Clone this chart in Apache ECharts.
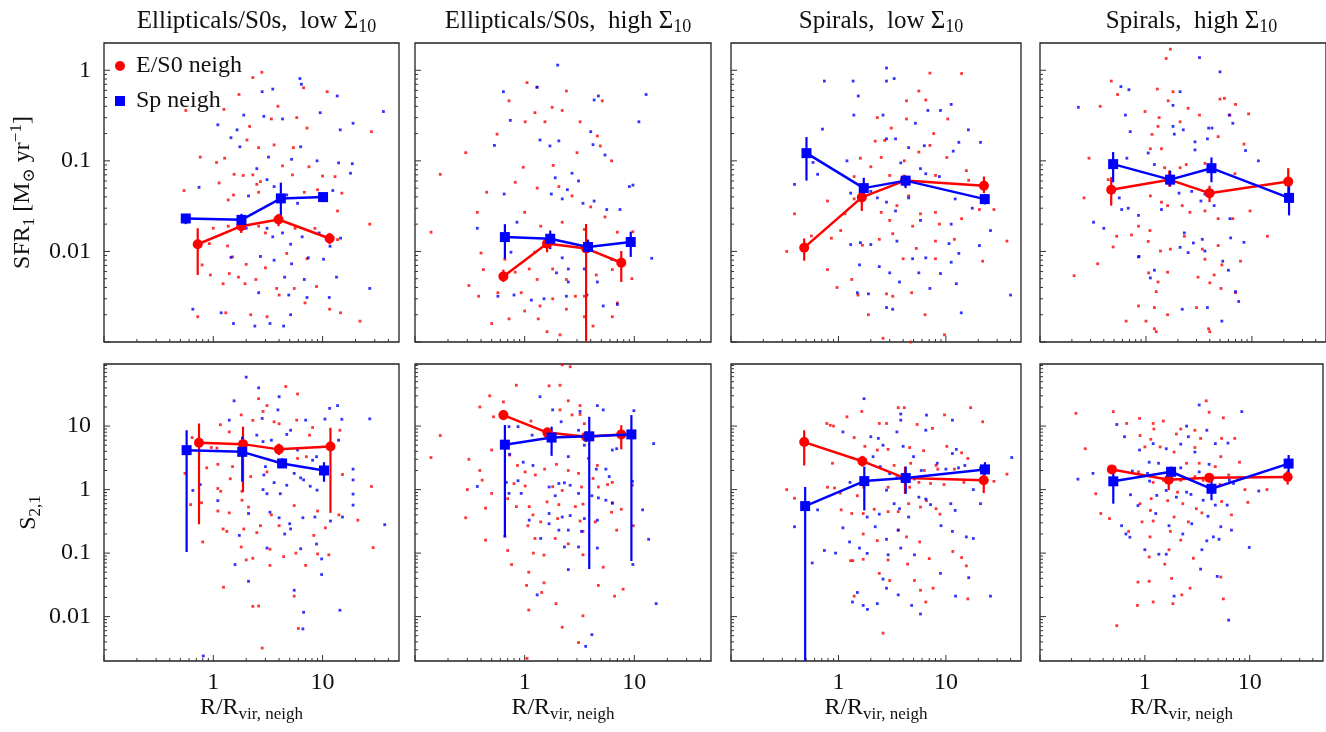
<!DOCTYPE html>
<html><head><meta charset="utf-8">
<script src="https://cdn.jsdelivr.net/npm/echarts@6/dist/echarts.min.js"></script>
<style>html,body{margin:0;padding:0;background:#fff}#c{width:1326px;height:732px}</style>
</head><body><div id="c"></div>
<script>
// ---------------- DATA ----------------
const panelTitles = [
  '{m|Ellipticals/S0s,  low Σ}{s|10}',
  '{m|Ellipticals/S0s,  high Σ}{s|10}',
  '{m|Spirals,  low Σ}{s|10}',
  '{m|Spirals,  high Σ}{s|10}'
];
const legendNames = ['E/S0 neigh', 'Sp neigh'];
const xLabelValues = [1, 10];
const yTopLabelValues = [1, 0.1, 0.01];
const yBotLabelValues = [10, 1, 0.1, 0.01];
const xRange = [0.1, 50];
const yTopRange = [0.001, 2];
const yBotRange = [0.002, 95];
const xMajorTicks = [0.1, 1, 10];
const xMinorTicks = [0.2,0.3,0.4,0.5,0.6,0.7,0.8,0.9,2,3,4,5,6,7,8,9,20,30,40];
const yTopMajorTicks = [0.001, 0.01, 0.1, 1];
const yTopMinorTicks = [0.002,0.003,0.004,0.005,0.006,0.007,0.008,0.009,0.02,0.03,0.04,0.05,0.06,0.07,0.08,0.09,0.2,0.3,0.4,0.5,0.6,0.7,0.8,0.9,2];
const yBotMajorTicks = [0.01, 0.1, 1, 10];
const yBotMinorTicks = [0.002,0.003,0.004,0.005,0.006,0.007,0.008,0.009,0.02,0.03,0.04,0.05,0.06,0.07,0.08,0.09,0.2,0.3,0.4,0.5,0.6,0.7,0.8,0.9,2,3,4,5,6,7,8,9,20,30,40,50,60,70,80,90];

// binned medians: [R/Rvir, value, errLow, errHigh]
const sfrEllLowBinE = [[0.72,0.0120,0.0055,0.018],[1.8,0.019,0.016,0.023],[3.95,0.0225,0.019,0.026],[11.6,0.0139,0.012,0.016]];
const sfrEllLowBinS = [[0.56,0.0231,0.020,0.026],[1.81,0.0223,0.019,0.026],[4.15,0.0385,0.0207,0.0574],[10.1,0.0398,0.035,0.045]];
const sfrEllHighBinE = [[0.64,0.0053,0.0046,0.0063],[1.6,0.0122,0.0098,0.015],[3.63,0.0108,0.001,0.0201],[7.6,0.0075,0.0046,0.0101]];
const sfrEllHighBinS = [[0.66,0.0144,0.0083,0.020],[1.71,0.0138,0.0106,0.017],[3.78,0.0112,0.0096,0.0135],[9.27,0.0127,0.0087,0.0165]];
const sfrSpLowBinE = [[0.48,0.011,0.0079,0.0139],[1.65,0.0395,0.028,0.054],[4.15,0.0605,0.052,0.067],[22.6,0.0532,0.044,0.067]];
const sfrSpLowBinS = [[0.504,0.1216,0.0605,0.183],[1.72,0.050,0.036,0.065],[4.22,0.0605,0.050,0.067],[23,0.0378,0.033,0.043]];
const sfrSpHighBinE = [[0.47,0.048,0.032,0.066],[1.66,0.062,0.052,0.078],[3.98,0.044,0.035,0.053],[22,0.059,0.041,0.083]];
const sfrSpHighBinS = [[0.49,0.092,0.058,0.125],[1.69,0.062,0.052,0.078],[4.15,0.083,0.058,0.109],[22.4,0.039,0.025,0.053]];
const s21EllLowBinE = [[0.74,5.46,0.284,11],[1.87,5.2,0.92,9.8],[3.98,4.3,3.5,5.3],[11.8,4.77,0.43,9.4]];
const s21EllLowBinS = [[0.57,4.18,0.104,8.6],[1.84,3.93,1.33,6.8],[4.26,2.58,2.2,3.1],[10.3,2.0,1.33,2.7]];
const s21EllHighBinE = [[0.64,14.9,12.4,17.9],[1.61,7.9,6.5,9.5],[3.63,6.8,5.6,8.2],[7.6,7.4,4.3,10.3]];
const s21EllHighBinS = [[0.66,5.1,0.18,10.4],[1.76,6.6,3.4,9.8],[3.88,6.9,0.056,14],[9.4,7.4,0.075,14.9]];
const s21SpLowBinE = [[0.48,5.6,2.4,8.6],[1.67,2.8,2.3,3.4],[4.16,1.52,0.86,2.3],[22.5,1.4,0.88,1.9]];
const s21SpLowBinS = [[0.49,0.55,0.002,1.1],[1.74,1.36,0.47,2.3],[4.23,1.52,0.86,2.3],[23.1,2.08,1.7,2.7]];
const s21SpHighBinE = [[0.485,2.08,1.85,2.3],[1.69,1.43,0.98,1.8],[4.11,1.54,1.3,1.75],[23,1.58,1.2,2.0]];
const s21SpHighBinS = [[0.5,1.35,0.6,2.3],[1.78,1.91,1.55,2.3],[4.32,1.03,0.68,1.6],[23.5,2.57,1.6,3.5]];

// individual galaxies: [R/Rvir, value]
const sfrEllLowE = [[0.56,0.36],[2.3,0.83],[2.78,0.95],[1.72,0.54],[11,0.58],[6.7,0.64],[28,0.21],[0.76,0.11],[0.54,0.047],[1.25,0.37],[27,0.020],[0.79,0.0071],[0.72,0.0019],[0.94,0.0055],[22,0.0017],[14.6,0.0021],[11.6,0.0023],[6.9,0.0027],[3.8,0.0039],[3.1,0.0019],[1.3,0.0021],[2.2,0.0020],[3.4,0.29],[3.9,0.40],[5.8,0.30],[7.2,0.23],[5.4,0.14],[2.15,0.24],[2.03,0.17],[2.6,0.14],[3.6,0.15],[1.07,0.096],[1.27,0.107],[1.55,0.071],[1.88,0.069],[2.3,0.07],[2.7,0.059],[4.3,0.088],[5.3,0.07],[7.5,0.086],[10,0.068],[13,0.067],[1.13,0.057],[1.37,0.037],[1.53,0.042],[2.5,0.055],[2.6,0.045],[4.3,0.038],[6.8,0.045],[9.0,0.048],[13.7,0.028],[15,0.044],[1.0,0.018],[1.37,0.019],[2.6,0.019],[3.0,0.016],[5.6,0.018],[8.5,0.018],[13.7,0.0135],[1.35,0.0115],[1.5,0.0087],[2.0,0.0072],[3.0,0.0066],[4.7,0.0095],[7.2,0.0083],[1.4,0.0057],[1.7,0.0052],[1.95,0.0044],[2.45,0.0049],[4.0,0.0033],[5.5,0.0039],[8.8,0.0041],[1.23,0.0044],[0.92,0.0122]];
const sfrEllLowS = [[2.8,0.58],[3.5,0.62],[6.2,0.81],[6.4,0.70],[13.6,0.52],[36,0.35],[19,0.26],[14.5,0.22],[9.5,0.34],[4.3,0.29],[2.9,0.31],[1.9,0.32],[1.65,0.22],[1.1,0.25],[1.45,0.18],[1.75,0.143],[6.3,0.143],[5.2,0.104],[8.9,0.10],[14,0.095],[18.7,0.093],[18,0.073],[3.2,0.11],[2.5,0.082],[3.1,0.062],[2.1,0.041],[3.6,0.052],[4.7,0.042],[5.9,0.034],[12.4,0.047],[14.6,0.014],[0.74,0.051],[2.0,0.018],[3.1,0.018],[3.5,0.0145],[4.3,0.016],[5.1,0.012],[6.5,0.0145],[9.3,0.016],[11.7,0.0114],[1.45,0.0086],[2.7,0.0088],[3.6,0.0080],[5.2,0.0073],[7.4,0.0085],[10.2,0.0082],[4.5,0.0052],[6.8,0.0049],[13.4,0.0052],[27,0.0039],[2.6,0.0035],[4.9,0.0033],[7.2,0.0031],[0.65,0.0023],[1.18,0.0021],[1.53,0.0016],[2.4,0.0015],[3.3,0.0016],[4.4,0.0015],[5.1,0.0020],[11.5,0.0031]];
const sfrEllHighE = [[0.14,0.0163],[0.17,0.071],[0.29,0.123],[0.37,0.027],[0.45,0.045],[0.40,0.0096],[0.42,0.0063],[0.31,0.0042],[0.38,0.0032],[0.50,0.0016],[0.72,0.0018],[0.56,0.197],[0.72,0.46],[1.05,0.73],[1.29,0.65],[1.01,0.27],[1.24,0.34],[1.53,0.27],[1.78,0.39],[2.2,0.36],[2.4,0.59],[3.2,0.27],[5.1,0.46],[4.6,0.188],[6.2,0.10],[4.9,0.146],[3.0,0.123],[1.82,0.089],[0.97,0.085],[0.82,0.058],[1.3,0.05],[2.05,0.052],[2.7,0.041],[4.0,0.031],[5.4,0.024],[7.0,0.0163],[9.7,0.0165],[1.0,0.027],[1.4,0.019],[2.2,0.021],[3.5,0.0175],[0.66,0.0082],[0.82,0.0059],[1.1,0.0064],[1.3,0.0049],[1.8,0.0064],[2.4,0.0049],[2.9,0.0032],[0.57,0.0035],[0.93,0.0035],[1.38,0.0025],[1.8,0.0030],[2.4,0.0023],[3.5,0.0032],[4.5,0.0055],[6.3,0.0063],[9.5,0.0050],[7.0,0.0027],[6.3,0.0019],[1.33,0.0018],[1.6,0.0013],[2.1,0.0012],[4.2,0.0015],[1.0,0.0022],[3.5,0.0019]];
const sfrEllHighS = [[2.0,1.14],[0.64,0.58],[1.3,0.65],[4.7,0.52],[4.3,0.47],[12.8,0.54],[11,0.27],[0.74,0.28],[0.53,0.148],[0.65,0.043],[0.37,0.018],[1.38,0.17],[1.7,0.146],[2.05,0.166],[4.0,0.21],[4.2,0.151],[5.4,0.116],[2.7,0.073],[3.1,0.06],[1.9,0.065],[2.45,0.048],[2.2,0.038],[1.75,0.043],[4.3,0.036],[3.4,0.034],[9,0.052],[9.7,0.054],[7.4,0.029],[5.6,0.029],[0.85,0.021],[0.75,0.0098],[1.24,0.0098],[2.2,0.0085],[2.5,0.0064],[3.5,0.0064],[4.6,0.0046],[6.2,0.0082],[0.57,0.0032],[0.8,0.0033],[1.15,0.0029],[1.5,0.0030],[2.4,0.0032],[3.7,0.0033],[5.2,0.0025],[7.0,0.0026],[14.4,0.0084],[2.5,0.0046],[1.95,0.0058]];
const sfrSpLowE = [[0.33,0.0100],[0.39,0.026],[0.56,0.0148],[0.79,0.036],[0.79,0.0063],[0.86,0.014],[0.97,0.0040],[1.05,0.017],[1.33,0.0049],[1.52,0.0033],[1.9,0.0020],[2.6,0.0011],[4.7,0.0010],[6.4,0.0020],[9.7,0.0012],[2.8,0.0034],[3.2,0.0032],[4.8,0.0035],[1.15,0.026],[1.4,0.067],[1.4,0.038],[1.6,0.107],[2.0,0.086],[2.2,0.165],[2.3,0.30],[2.7,0.168],[3.1,0.23],[4.3,0.46],[4.3,0.29],[5.6,0.59],[7.1,0.93],[14,0.92],[6.5,0.47],[10.4,0.29],[7.7,0.20],[7.1,0.148],[5.6,0.125],[4.1,0.100],[2.5,0.109],[3.0,0.069],[4.1,0.068],[8.0,0.069],[10.2,0.109],[15.5,0.078],[16.3,0.061],[4.5,0.041],[8.0,0.027],[2.5,0.027],[3.5,0.032],[5.8,0.026],[3.0,0.022],[4.9,0.019],[8.7,0.020],[14,0.023],[20.5,0.029],[28,0.029],[37,0.0130],[22,0.0078],[12,0.0136],[8,0.013],[5.3,0.0108],[3.2,0.0157],[2.4,0.0136],[1.67,0.0117],[4.0,0.0083],[8.0,0.0083]];
const sfrSpLowS = [[0.39,0.055],[0.58,0.096],[0.64,0.071],[0.71,0.224],[0.74,0.76],[1.37,0.76],[1.53,0.52],[1.39,0.32],[2.8,1.06],[2.8,0.76],[3.3,0.81],[2.6,0.32],[2.8,0.175],[3.4,0.175],[5.2,0.26],[6.8,0.36],[8.9,0.36],[11.2,0.42],[16.2,0.22],[21,0.16],[13.2,0.16],[11.7,0.128],[6.3,0.147],[4.5,0.14],[3.8,0.095],[5.8,0.082],[6.5,0.072],[8.7,0.067],[12.2,0.038],[17.6,0.030],[1.2,0.10],[1.3,0.044],[2.0,0.046],[2.3,0.039],[2.8,0.035],[3.4,0.028],[4.5,0.039],[5.8,0.022],[11.2,0.020],[10.7,0.0122],[13.2,0.0095],[20.5,0.0116],[26,0.017],[1.3,0.0119],[1.6,0.0125],[2.0,0.0119],[3.5,0.0130],[4.9,0.0083],[6.5,0.0085],[8.9,0.0057],[11.2,0.0076],[1.57,0.0071],[2.4,0.0068],[3.0,0.0058],[3.7,0.0046],[5.6,0.0058],[7.1,0.0039],[12.5,0.0044],[1.5,0.0035],[2.8,0.0024],[3.2,0.0023],[13.9,0.0021],[40,0.0033],[1.9,0.0034]];
const sfrSpHighE = [[1.7,1.71],[1.55,1.35],[0.47,0.76],[0.54,0.54],[0.37,0.40],[1.28,0.62],[1.8,0.58],[1.62,0.46],[2.5,0.38],[3.2,0.32],[5.0,0.48],[5.5,0.49],[7.0,0.42],[9.3,0.33],[6.2,0.32],[1.33,0.30],[0.98,0.35],[1.14,0.196],[1.3,0.24],[2.1,0.27],[4.8,0.185],[8.4,0.153],[0.29,0.107],[0.26,0.039],[0.44,0.062],[1.1,0.136],[1.4,0.136],[1.5,0.084],[2.1,0.084],[2.4,0.091],[3.6,0.094],[6.9,0.072],[1.1,0.041],[1.4,0.035],[1.6,0.032],[2.2,0.032],[2.6,0.027],[3.6,0.028],[4.8,0.023],[6.6,0.023],[9.6,0.028],[14,0.0147],[0.53,0.0147],[0.49,0.0112],[0.73,0.0152],[0.85,0.019],[1.09,0.017],[1.05,0.0129],[1.37,0.0101],[1.7,0.0106],[2.3,0.0147],[3.4,0.0106],[4.8,0.0116],[3.6,0.0082],[5.2,0.0071],[7.8,0.0078],[0.35,0.0073],[0.21,0.0054],[1.06,0.0058],[1.3,0.0046],[1.6,0.0059],[3.1,0.0052],[4.4,0.0055],[4.0,0.0045],[5.1,0.0039],[7.0,0.0035],[1.25,0.0036],[0.85,0.0025],[1.2,0.0024],[3.0,0.0024],[1.6,0.0020],[0.65,0.0017],[1.0,0.0017],[1.2,0.0014],[1.25,0.0013],[3.9,0.0014],[4.0,0.0013]];
const sfrSpHighS = [[0.23,0.39],[0.58,0.66],[0.69,0.61],[0.64,0.32],[0.71,0.21],[2.1,0.58],[1.8,0.41],[3.2,1.38],[5.0,0.96],[6.1,0.32],[6.6,0.26],[8.7,0.13],[11.5,0.10],[3.9,0.23],[4.2,0.23],[1.8,0.24],[2.25,0.22],[1.85,0.197],[2.9,0.162],[3.8,0.175],[2.9,0.132],[1.05,0.122],[1.2,0.091],[0.66,0.107],[0.56,0.039],[0.59,0.029],[0.68,0.030],[0.32,0.021],[0.40,0.018],[0.86,0.0088],[0.85,0.025],[1.4,0.029],[2.05,0.044],[2.7,0.046],[3.6,0.043],[3.3,0.036],[4.4,0.032],[6.2,0.023],[6.3,0.0141],[8.4,0.0126],[2.3,0.016],[2.8,0.0124],[3.4,0.0136],[3.6,0.0101],[2.5,0.0097],[2.1,0.0111],[5.3,0.0078],[6.0,0.0062],[7.0,0.0036],[7.5,0.0028],[5.2,0.0017],[3.8,0.0024],[2.2,0.0023],[1.1,0.0051],[1.2,0.0062],[0.85,0.0087]];
const s21EllLowE = [[4.6,42],[5.9,32],[2.6,27],[3.1,21],[2.85,17],[1.8,15],[2.3,12.3],[1.16,10.5],[1.4,8.1],[3.6,11.7],[4.0,10.9],[5.8,12.4],[8.1,9.5],[7.6,7.2],[14.4,8.6],[0.64,6.6],[0.96,4.6],[1.08,4.5],[0.87,2.2],[1.1,2.5],[1.5,2.3],[2.2,1.6],[3.1,1.9],[5.9,3.1],[7.1,3.3],[15.2,1.73],[28,1.12],[1.83,0.94],[1.43,1.48],[1.17,0.94],[1.1,1.04],[1.83,0.68],[2.1,0.53],[1.1,0.46],[1.4,0.43],[2.7,0.27],[3.4,0.40],[4.0,0.27],[5.5,0.56],[9.0,0.46],[14.1,0.40],[21,0.33],[1.23,0.24],[1.33,0.22],[1.9,0.24],[2.5,0.21],[8.3,0.19],[10.6,0.25],[0.8,0.15],[1.8,0.125],[3.3,0.115],[4.4,0.088],[5.7,0.10],[9.0,0.097],[11.4,0.094],[29,0.122],[2.0,0.078],[2.3,0.083],[3.3,0.064],[7.0,0.064],[1.24,0.029],[2.3,0.0145],[2.6,0.0147],[5.5,0.021],[6.0,0.0065],[2.8,0.0032],[0.62,0.58],[0.78,0.62],[0.55,1.8]];
const s21EllLowS = [[2.0,59],[1.55,25],[2.6,40],[4.0,29],[3.9,18],[2.8,13.2],[1.4,12.4],[7.0,12.4],[11.6,19],[13.7,21],[10.5,12.9],[15,12.8],[27,13],[2.5,7.2],[2.85,5.7],[3.4,6.0],[4.7,7.4],[5.1,8.6],[5.9,4.2],[8.1,2.9],[8.8,3.3],[14,6.0],[3.0,2.3],[2.9,1.7],[3.6,1.29],[5.5,1.8],[6.3,1.53],[6.7,1.42],[4.7,1.17],[2.85,1.0],[3.1,0.86],[4.1,0.86],[7.7,1.13],[8.9,0.98],[19,2.1],[19,1.42],[19,0.85],[19,0.57],[15.2,0.37],[37,0.28],[0.65,0.97],[0.76,1.2],[1.1,0.67],[2.1,0.42],[3.3,0.44],[4.0,0.36],[5.0,0.29],[6.6,0.36],[8.5,0.37],[11.8,0.32],[1.73,0.19],[4.5,0.2],[5.1,0.24],[3.1,0.12],[8.8,0.139],[9.8,0.081],[1.58,0.066],[2.1,0.036],[5.5,0.026],[6.7,0.0117],[6.6,0.0064],[14.4,0.0126],[0.81,0.0024],[9.8,0.046],[6.3,0.117]];
const s21EllHighE = [[2.2,92],[2.6,86],[0.84,44],[1.67,43],[2.1,44],[0.48,30],[0.64,24],[2.5,25],[3.2,21],[0.39,20],[0.52,14],[1.14,12],[2.1,18],[2.7,15],[3.2,15.3],[3.5,10.9],[0.17,7.1],[0.14,3.2],[0.31,3.0],[0.39,2.0],[0.50,4.2],[0.41,1.41],[0.30,1.0],[0.73,3.5],[0.86,2.4],[1.01,1.9],[1.25,1.7],[1.52,2.1],[1.95,2.5],[2.5,2.0],[3.1,1.8],[3.8,3.1],[4.6,2.4],[5.7,1.2],[6.3,1.3],[0.80,1.24],[1.01,1.14],[1.8,1.11],[2.2,0.97],[3.3,1.1],[4.2,1.5],[4.7,1.1],[0.5,0.87],[0.44,0.51],[0.7,0.72],[0.84,0.54],[1.1,0.54],[1.6,0.64],[2.05,0.58],[2.9,0.54],[3.4,0.59],[6.3,0.62],[9.6,1.17],[7.6,0.49],[1.19,0.4],[1.4,0.31],[2.0,0.35],[3.2,0.32],[4.4,0.31],[6.2,0.44],[1.07,0.27],[6.9,0.23],[9.8,0.27],[0.29,0.36],[0.44,0.16],[1.24,0.17],[1.9,0.17],[2.5,0.14],[3.4,0.22],[0.7,0.11],[1.2,0.10],[1.5,0.093],[3.4,0.094],[0.76,0.066],[1.09,0.050],[1.5,0.034],[1.04,0.031],[1.43,0.024],[1.09,0.0127],[1.93,0.016],[2.2,0.0068],[3.4,0.0103],[3.1,0.0039],[1.05,0.0022],[4.7,0.031],[6.6,0.021],[7.9,0.027],[5.2,0.060]];
const s21EllHighS = [[1.38,29],[1.8,18],[4.6,21],[5.2,18],[3.2,17],[9.9,17.5],[3.1,8.6],[2.15,11.7],[0.72,9.8],[0.87,9.8],[1.17,7.2],[3.5,5.0],[6.3,4.2],[6.9,4.4],[15,5.3],[0.73,3.6],[0.97,2.7],[1.19,2.4],[2.5,3.3],[4.5,2.1],[5.5,2.1],[5.9,1.6],[0.68,1.3],[0.72,0.87],[0.87,1.38],[1.67,1.1],[2.05,1.25],[2.3,1.28],[2.6,1.17],[3.1,0.87],[4.1,0.80],[4.7,0.74],[5.5,0.68],[6.3,0.61],[9.6,1.35],[11.9,0.48],[0.37,1.12],[0.93,0.87],[1.9,0.80],[1.67,0.42],[2.2,0.37],[2.6,0.39],[3.5,0.35],[4.6,0.33],[1.1,0.33],[1.67,0.29],[2.05,0.23],[2.5,0.23],[3.3,0.22],[0.66,0.184],[1.4,0.17],[2.3,0.125],[3.1,0.125],[4.6,0.12],[13.5,0.165],[2.5,0.055],[1.3,0.022],[15.8,0.016],[4.1,0.0052],[3.6,0.0034],[9.7,0.066]];
const s21SpLowE = [[0.33,1.0],[0.39,0.73],[0.78,11],[0.84,10.3],[0.90,10],[1.2,14],[1.65,17],[2.4,11],[2.8,11],[3.6,19.5],[4.1,19.5],[5.4,10.6],[7.5,9.2],[9.7,15],[17,19.5],[22,11.7],[37,1.75],[28,1.35],[1.4,6.6],[1.76,4.8],[0.88,2.6],[0.92,1.06],[0.79,1.09],[1.04,0.88],[2.3,4.2],[2.9,4.3],[4.6,4.6],[6.2,4.1],[8.1,2.4],[10.2,4.8],[14,3.8],[3.3,2.4],[4.7,2.6],[6.3,2.0],[8.4,2.1],[12,2.1],[16,3.1],[1.5,0.8],[1.72,1.09],[2.9,1.09],[4.6,1.09],[5.6,1.3],[7.2,1.25],[9.6,1.2],[14.7,1.3],[1.06,0.48],[1.33,0.42],[1.7,0.42],[2.15,0.49],[2.9,0.45],[3.6,0.45],[4.5,0.6],[5.8,0.53],[6.6,0.67],[8.1,0.5],[1.7,0.2],[2.3,0.157],[3.6,0.23],[4.3,0.18],[5.7,0.15],[8.8,0.41],[11.6,0.106],[14,0.085],[15.5,0.063],[2.9,0.078],[4.4,0.067],[7,0.082],[1.36,0.076],[1.7,0.08],[2.4,0.048],[3.0,0.037],[5.1,0.037],[7.6,0.028],[5.8,0.026],[6.5,0.017],[1.4,0.021],[2.6,0.0055],[16,0.019],[1.3,0.076]];
const s21SpLowS = [[1.73,27],[3.8,15.5],[3.8,12.4],[6.6,14.9],[11.5,12.4],[1.1,8.1],[3.5,8.1],[6.5,8.6],[2.0,6.8],[2.35,6.4],[2.6,5.0],[4.0,4.8],[5.0,3.3],[11.5,3.7],[12.5,4.3],[15,2.4],[21,2.2],[41,3.2],[1.28,1.3],[2.1,3.3],[2.45,2.3],[3.0,1.78],[3.5,1.54],[5.1,1.47],[5.9,2.0],[8.3,2.6],[10,2.1],[13.1,2.2],[18,1.0],[21,0.6],[0.64,0.48],[0.39,0.26],[1.1,0.25],[1.85,0.37],[2.4,0.41],[2.8,0.98],[3.3,0.6],[3.7,0.5],[5.6,0.76],[6.5,0.71],[7.2,0.58],[11.1,0.6],[12.2,0.47],[15.5,0.18],[18,0.17],[2.2,0.26],[2.8,0.165],[3.6,0.23],[4.5,0.37],[9.0,0.27],[11.5,0.22],[1.27,0.15],[1.57,0.12],[0.94,0.1],[0.57,0.07],[0.74,0.11],[1.85,0.099],[2.9,0.094],[3.8,0.12],[5.1,0.094],[8.9,0.048],[16.3,0.041],[2.6,0.039],[2.8,0.028],[3.6,0.022],[12.3,0.021],[26,0.021],[1.35,0.017],[1.5,0.024],[1.7,0.015],[1.86,0.013],[2.3,0.016],[4.8,0.015],[5.8,0.011]];
const s21SpHighE = [[0.22,15.9],[0.27,4.4],[0.34,0.86],[0.38,0.42],[0.46,0.35],[0.50,16.9],[0.67,11],[0.89,13.2],[0.9,7.1],[1.2,11],[1.5,12],[1.22,9],[2.2,9],[3.0,8.6],[3.85,25],[4.1,16.5],[5.6,13.5],[7.2,6.4],[5.4,6.4],[3.4,6.4],[3.0,4.6],[2.0,7.5],[1.14,6.2],[1.0,4.7],[1.4,4.7],[1.9,3.9],[2.5,2.6],[3.3,2.6],[4.7,2.3],[5.3,3.3],[8.0,2.7],[6.3,1.7],[0.87,1.9],[1.2,1.3],[1.5,1.4],[2.2,1.4],[3.0,1.6],[3.6,1.4],[5.2,1.2],[9.0,1.0],[14.6,1.0],[9.6,0.63],[2.05,0.91],[1.65,0.67],[2.3,0.6],[3.1,0.5],[3.5,0.43],[5.4,0.65],[6.7,0.4],[1.15,0.72],[0.9,0.6],[1.13,0.47],[0.70,0.22],[0.94,0.31],[1.2,0.32],[1.9,0.37],[2.6,0.31],[1.12,0.18],[1.75,0.22],[2.2,0.16],[2.9,0.083],[1.7,0.113],[1.1,0.087],[1.55,0.067],[0.86,0.035],[1.1,0.036],[1.8,0.04],[2.7,0.028],[2.25,0.022],[1.85,0.016],[0.85,0.015],[1.2,0.017],[5.3,0.042],[5.6,0.019],[0.54,0.0072]];
const s21SpHighS = [[3.3,21.5],[8.4,16.9],[0.54,10.6],[0.64,6.8],[2.5,10],[2.6,6.8],[3.9,8.6],[4.7,5.3],[6.2,5.4],[0.89,4.2],[1.2,5.3],[1.6,4.4],[2.2,5.2],[3.0,3.9],[4.1,2.5],[1.1,2.7],[1.35,2.6],[2.2,2.2],[3.3,1.9],[6.4,1.4],[7.0,1.25],[12.2,0.95],[0.23,1.46],[0.32,1.8],[0.76,1.96],[1.06,1.8],[1.11,1.36],[1.6,0.97],[1.3,0.81],[2.0,0.76],[2.5,0.91],[2.75,0.84],[3.6,0.68],[4.7,0.57],[6.1,0.57],[0.73,0.83],[0.86,0.56],[1.27,0.42],[1.7,0.27],[2.8,0.29],[4.0,0.38],[3.9,0.156],[4.5,0.18],[5.1,0.165],[5.3,0.26],[6.7,0.23],[0.6,0.27],[0.66,0.2],[0.72,0.178],[1.0,0.113],[1.36,0.096],[1.6,0.096],[2.3,0.2],[3.5,0.113],[3.4,0.056],[4.9,0.043],[9.9,0.123],[1.9,0.021],[6.3,0.0088]];

// ---------------- CHART ----------------
const RED = '#f00', BLUE = '#00f';
const FONT = "'Liberation Serif','DejaVu Serif','Noto Serif',serif";
const panels = [
  {r:0,c:0,E:sfrEllLowE,S:sfrEllLowS,bE:sfrEllLowBinE,bS:sfrEllLowBinS},
  {r:0,c:1,E:sfrEllHighE,S:sfrEllHighS,bE:sfrEllHighBinE,bS:sfrEllHighBinS},
  {r:0,c:2,E:sfrSpLowE,S:sfrSpLowS,bE:sfrSpLowBinE,bS:sfrSpLowBinS},
  {r:0,c:3,E:sfrSpHighE,S:sfrSpHighS,bE:sfrSpHighBinE,bS:sfrSpHighBinS},
  {r:1,c:0,E:s21EllLowE,S:s21EllLowS,bE:s21EllLowBinE,bS:s21EllLowBinS},
  {r:1,c:1,E:s21EllHighE,S:s21EllHighS,bE:s21EllHighBinE,bS:s21EllHighBinS},
  {r:1,c:2,E:s21SpLowE,S:s21SpLowS,bE:s21SpLowBinE,bS:s21SpLowBinS},
  {r:1,c:3,E:s21SpHighE,S:s21SpHighS,bE:s21SpHighBinE,bS:s21SpHighBinS}
];
const colLeft = [104, 415, 731, 1040];
const colWidth = [295, 296, 290, 293];
const rowTop = [43, 364];
const rowHeight = [299, 297];

const near = (v, list) => list.some(t => Math.abs(v - t) / t < 1e-6);
const base = {fontFamily: FONT, fontWeight: 'normal', fontStyle: 'normal', color: '#111'};
const richMain = Object.assign({fontSize: 24, lineHeight: 30, verticalAlign: 'middle'}, base);
const richSub = Object.assign({fontSize: 17, lineHeight: 14, verticalAlign: 'bottom'}, base);
const richSup = Object.assign({fontSize: 17, lineHeight: 14, verticalAlign: 'top'}, base);
const rich = {m: richMain, s: richSub, p: richSup};
const richT = {m: Object.assign({}, richMain, {fontSize: 25}), s: Object.assign({}, richSub, {fontSize: 18})};

const grids = [], xAxes = [], yAxes = [], series = [], titles = [];
panels.forEach((p, i) => {
  grids.push({left: colLeft[p.c], top: rowTop[p.r], width: colWidth[p.c], height: rowHeight[p.r],
    show: true, borderColor: '#222', borderWidth: 1.3, backgroundColor: 'transparent'});
  const yr = p.r ? yBotRange : yTopRange;
  const yLabs = p.r ? yBotLabelValues : yTopLabelValues;
  xAxes.push({type: 'log', logBase: 10, gridIndex: i, min: xRange[0], max: xRange[1],
    axisLine: {show: false}, axisTick: {show: false}, splitLine: {show: false},
    axisLabel: {show: p.r === 1, margin: 10, fontFamily: FONT, fontSize: 24, color: '#111',
      formatter: v => near(v, xLabelValues) ? String(v) : ''},
    name: p.r === 1 ? '{m|R/R}{s|vir, neigh}' : '', nameLocation: 'middle', nameGap: 25,
    nameTextStyle: {rich}});
  yAxes.push({type: 'log', logBase: 10, gridIndex: i, min: yr[0], max: yr[1],
    axisLine: {show: false}, axisTick: {show: false}, splitLine: {show: false},
    axisLabel: {show: p.c === 0, margin: 13, fontFamily: FONT, fontSize: 24, color: '#111',
      formatter: v => near(v, yLabs) ? String(v) : ''},
    name: p.c === 0 ? (p.r === 0 ? '{m|SFR}{s|1}{m| [M}{s|⊙}{m| yr}{p|−1}{m|]}' : '{m|S}{s|2,1}') : '',
    nameLocation: 'middle', nameGap: p.r === 0 ? 66 : 60, nameTextStyle: {rich}});

  const common = {xAxisIndex: i, yAxisIndex: i, silent: true, animation: false};
  series.push(Object.assign({type: 'scatter', name: 'E dots', data: p.E, symbol: 'rect', symbolSize: 2.8,
    itemStyle: {color: RED}, z: 1}, common));
  series.push(Object.assign({type: 'scatter', name: 'Sp dots', data: p.S, symbol: 'rect', symbolSize: 2.8,
    itemStyle: {color: BLUE}, z: 1}, common));
  [[p.bE, RED], [p.bS, BLUE]].forEach(([b, col]) => {
    series.push(Object.assign({type: 'custom', name: 'err', data: b.map(d => [d[0], d[2], d[3]]),
      encode: {x: 0, y: [1, 2]}, z: 3, clip: true,
      renderItem: (params, api) => {
        const a = api.coord([api.value(0), api.value(1)]);
        const t = api.coord([api.value(0), api.value(2)]);
        return {type: 'line', shape: {x1: a[0], y1: a[1], x2: t[0], y2: t[1]},
          style: {stroke: col, lineWidth: 2.2}};
      }}, common));
  });
  series.push(Object.assign({type: 'line', name: legendNames[0], data: p.bE.map(d => [d[0], d[1]]),
    symbol: 'circle', symbolSize: 10, showAllSymbol: true,
    lineStyle: {color: RED, width: 2.5}, itemStyle: {color: RED}, z: 4}, common));
  series.push(Object.assign({type: 'line', name: legendNames[1], data: p.bS.map(d => [d[0], d[1]]),
    symbol: 'rect', symbolSize: 10, showAllSymbol: true,
    lineStyle: {color: BLUE, width: 2.5}, itemStyle: {color: BLUE}, z: 5}, common));

  // axis ticks (inside, bottom and left edges)
  const ticks = [];
  xMajorTicks.forEach(v => ticks.push([v, yr[0], 6, 0]));
  xMinorTicks.forEach(v => ticks.push([v, yr[0], 3, 0]));
  (p.r ? yBotMajorTicks : yTopMajorTicks).forEach(v => ticks.push([xRange[0], v, 6, 1]));
  (p.r ? yBotMinorTicks : yTopMinorTicks).forEach(v => { if (v > yr[0] && v < yr[1]) ticks.push([xRange[0], v, 3, 1]); });
  series.push(Object.assign({type: 'custom', name: 'ticks', data: ticks, encode: {x: 0, y: 1}, z: 6,
    renderItem: (params, api) => {
      const q = api.coord([api.value(0), api.value(1)]);
      const L = api.value(2), k = api.value(3);
      const q2 = k === 0 ? [q[0], q[1] - L] : [q[0] + L, q[1]];
      return {type: 'line', shape: {x1: q[0], y1: q[1], x2: q2[0], y2: q2[1]},
        style: {stroke: '#333', lineWidth: 1}};
    }}, common));

  if (p.r === 0) {
    titles.push({text: panelTitles[p.c], left: colLeft[p.c] + colWidth[p.c] / 2, top: 1, textAlign: 'center',
      textStyle: {fontWeight: 'normal', fontFamily: FONT, rich: richT}});
  }
});

const chart = echarts.init(document.getElementById('c'), null, {renderer: 'canvas'});
chart.setOption({
  animation: false,
  backgroundColor: '#fff',
  textStyle: {fontFamily: FONT},
  title: titles,
  legend: {data: [{name: legendNames[0], icon: 'circle'}, {name: legendNames[1], icon: 'rect'}],
    orient: 'vertical', left: 110, top: 49, itemWidth: 10, itemHeight: 10, itemGap: 11,
    selectedMode: false,
    textStyle: {fontFamily: FONT, fontSize: 24, color: '#111', lineHeight: 24, padding: [0, 0, 0, 6]}},
  grid: grids, xAxis: xAxes, yAxis: yAxes, series
});
</script>
</body></html>
